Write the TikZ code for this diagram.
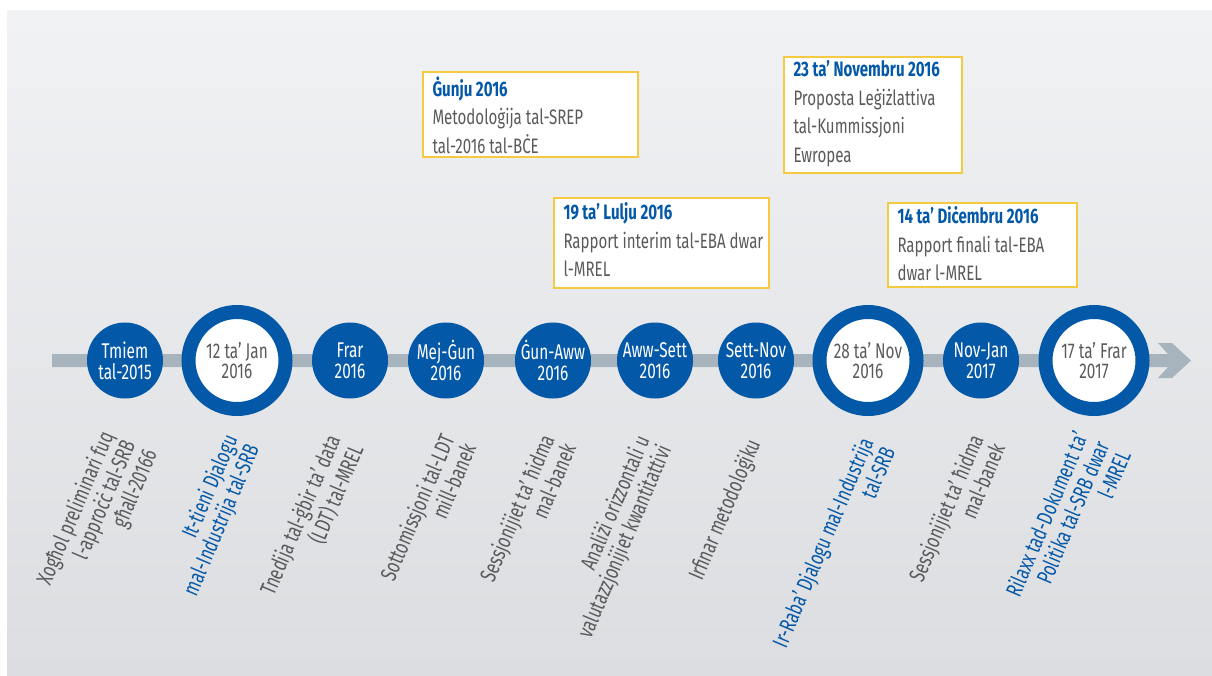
\documentclass[tikz,border=0pt]{standalone}
\usepackage{fontspec}
\setmainfont{Fira Sans}[FakeStretch=0.72]
\usetikzlibrary{calc}

\definecolor{euBlue}{RGB}{4,88,168}
\definecolor{barGray}{RGB}{168,180,189}
\definecolor{noteYellow}{RGB}{246,202,64}
\definecolor{textGray}{RGB}{90,90,92}
\definecolor{bgTop}{RGB}{241,242,244}
\definecolor{bgBottom}{RGB}{220,221,224}

\pgfdeclarelayer{back}
\pgfsetlayers{back,main}

\tikzset{every picture/.style={line width=0.75pt}}

\begin{document}
\begin{tikzpicture}[x=0.75pt,y=0.75pt,yscale=-1,xscale=1,
  dot/.style={circle, fill=euBlue, inner sep=0pt, minimum size=57pt, text=white, align=center, font=\fontsize{16}{15.5}\selectfont},
  ring/.style={circle, draw=euBlue, line width=10.5pt, fill=white, inner sep=0pt, minimum size=72.75pt, text=textGray, align=center, font=\fontsize{16}{15.5}\selectfont},
  tag/.style={rotate=67, anchor=east, align=right, inner sep=0pt, text=textGray, font=\fontsize{16.8}{17.6}\selectfont},
  keytag/.style={tag, text=euBlue},
  note/.style={draw=noteYellow, line width=1.5pt, fill=white, anchor=north west, inner sep=0pt},
  notetext/.style={anchor=north west, align=left, inner sep=0pt, text=textGray, font=\fontsize{15.7}{21.5}\selectfont},
  lead/.style={draw=noteYellow, line width=1.5pt}]
	\useasboundingbox (0,0) rectangle (1212,675);

	%Shape: Background
	\shade [top color=bgTop, bottom color=bgBottom] (7,10) rectangle (1212,675);

	%Shape: Time bar with arrow head
	\fill [barGray] (52,354) -- (1168,354) -- (1158,343) -- (1172,343) -- (1191,360.5) -- (1172,378) -- (1158,378) -- (1168,367) -- (52,367) -- cycle;

	% Circles
	\node [dot]  (tmiem)   at (125,360.5) {Tmiem\\tal-2015};
	\node [ring] (jan16)   at (237,360.5) {12 ta’ Jan\\2016};
	\node [dot]  (frar16)  at (350,360.5) {Frar\\2016};
	\node [dot]  (mejgun)  at (446,360.5) {Mej-Ġun\\2016};
	\node [dot]  (gunaww)  at (553,360.5) {Ġun-Aww\\2016};
	\node [dot]  (awwsett) at (655,360.5) {Aww-Sett\\2016};
	\node [dot]  (settnov) at (756,360.5) {Sett-Nov\\2016};
	\node [ring] (nov16)   at (868,360.5) {28 ta’ Nov\\2016};
	\node [dot]  (novjan)  at (981,360.5) {Nov-Jan\\2017};
	\node [ring] (frar17)  at (1094,360.5) {17 ta’ Frar\\2017};

	% Notes
	\node [note, minimum width=161.25pt, minimum height=63.75pt] (gunju) at (422,71) {};
	\node [notetext] (gunjutxt) at ([shift={(10,5)}]gunju.north west)
	  {{\color{euBlue}\bfseries Ġunju 2016}\\Metodoloġija tal-SREP\\tal-2016 tal-BĊE};
	\node [note, minimum width=161.25pt, minimum height=67.5pt] (lulju) at (553,197) {};
	\node [notetext] (luljutxt) at ([shift={(10,5)}]lulju.north west)
	  {{\color{euBlue}\bfseries 19 ta’ Lulju 2016}\\Rapport interim tal-EBA dwar\\l-MREL};
	\node [note, minimum width=133.5pt, minimum height=87pt] (novembru) at (783,56) {};
	\node [notetext] (novembrutxt) at ([shift={(10,4)}]novembru.north west)
	  {{\color{euBlue}\bfseries 23 ta’ Novembru 2016}\\Proposta Leġiżlattiva\\tal-Kummissjoni\\Ewropea};
	\node [note, minimum width=141.75pt, minimum height=63pt] (dicembru) at (887,202) {};
	\node [notetext] (dicembrutxt) at ([shift={(10,4)}]dicembru.north west)
	  {{\color{euBlue}\bfseries 14 ta’ Diċembru 2016}\\Rapport finali tal-EBA\\dwar l-MREL};

	% Leads
	\coordinate (k1) at ($(gunju.south west)+(116,0)$);
	\coordinate (k2) at ($(lulju.south west)+(15,0)$);
	\coordinate (k3) at ($(novembru.south west)+(89,0)$);
	\coordinate (k4) at ($(dicembru.south west)+(93,0)$);
	\begin{pgfonlayer}{back}
	\draw [lead] (k1) -- (k1 |- gunaww.center);
	\draw [lead] (k2) -- (k2 |- gunaww.center);
	\draw [lead] (k3) -- (k3 |- nov16.center);
	\draw [lead] (k4) -- (k4 |- novjan.center);
	\end{pgfonlayer}

	% Text Nodes
	\node [tag]    (lbtmiem)   at (130,442) {Xogħol preliminari fuq\\l-approċċ tal-SRB\\għall-20166};
	\node [keytag] (lbjan16)   at (243,441) {It-tieni Djalogu\\mal-Industrija tal-SRB};
	\node [tag]    (lbfrar16)  at (346,441) {Tnedija tal-ġbir ta’ data\\(LDT) tal-MREL};
	\node [tag]    (lbmejgun)  at (458,440) {Sottomissjoni tal-LDT\\mill-banek};
	\node [tag]    (lbgunaww)  at (558,440) {Sessjonijiet ta’ ħidma\\mal-banek};
	\node [tag]    (lbawwsett) at (655,442) {Analiżi orizzontali u\\valutazzjonijiet kwantitattivi};
	\node [tag]    (lbsettnov) at (755,441) {Irfinar metodoloġiku};
	\node [keytag] (lbnov16)   at (877,443) {Ir-Raba’ Djalogu mal-Industrija\\tal-SRB};
	\node [tag]    (lbnovjan)  at (987,440) {Sessjonijiet ta’ ħidma\\mal-banek};
	\node [keytag] (lbfrar17)  at (1102,442) {Rilaxx tad-Dokument ta’\\Politika tal-SRB dwar\\l-MREL};

\end{tikzpicture}
\end{document}
